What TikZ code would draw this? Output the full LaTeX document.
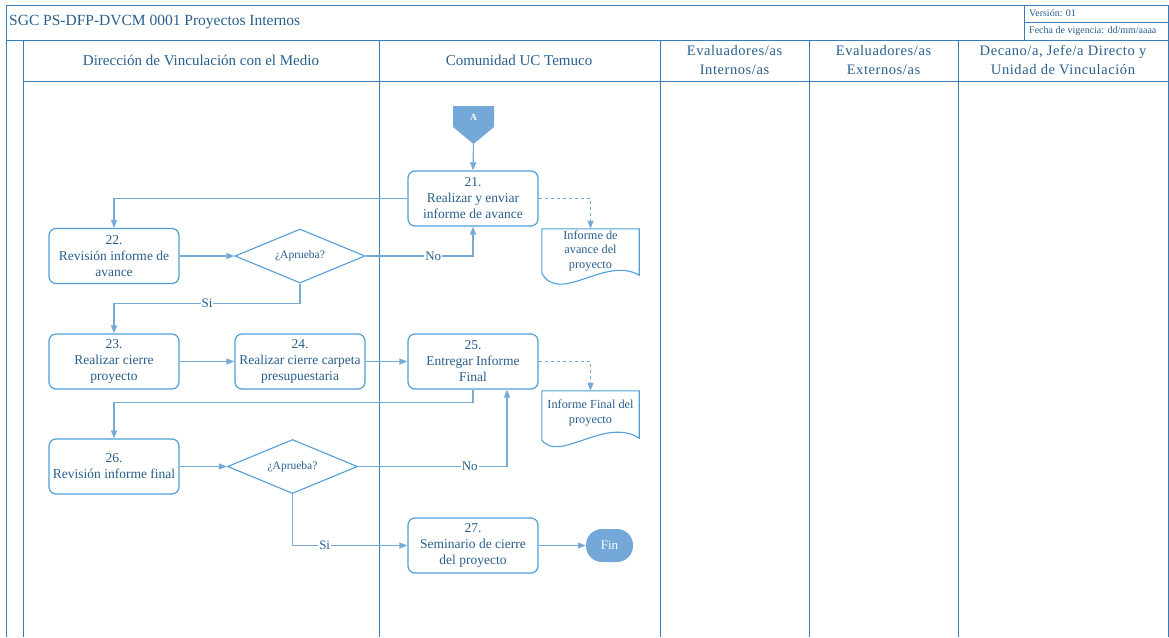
\documentclass[tikz,border=0pt]{standalone}
\usepackage{fontspec}
\setmainfont{Liberation Serif}
\newfontfamily\spacedfont[LetterSpace=4]{Liberation Serif}
\usetikzlibrary{shapes.geometric,arrows.meta,calc}
\definecolor{lanec}{RGB}{55,125,188}
\definecolor{txtc}{RGB}{40,95,140}
\definecolor{boxc}{RGB}{80,160,215}
\definecolor{connc}{RGB}{120,170,215}
\definecolor{fillc}{RGB}{115,168,216}
\begin{document}
\begin{tikzpicture}[x=1pt,y=-1pt,
  lane/.style={draw=lanec,line width=0.9pt},
  proc/.style={draw=boxc,rounded corners=7pt,minimum width=130pt,minimum height=55pt,
    align=center,text=txtc,font=\fontsize{13.5}{16}\selectfont,line width=1.2pt,inner sep=0pt},
  dec/.style={diamond,draw=boxc,aspect=2.4,minimum width=130pt,minimum height=54pt,
    text=txtc,font=\fontsize{11.5}{13}\selectfont,line width=1.1pt,inner sep=0pt},
  docnode/.style={minimum width=97pt,align=center,text=txtc,font=\fontsize{12.3}{14.5}\selectfont,inner sep=0pt},
  docshape/.style={draw=boxc,line width=1.1pt},
  conn/.style={draw=connc,line width=1.2pt,-{Triangle[length=8pt,width=6pt]}},
  lbl/.style={fill=white,text=txtc,font=\fontsize{13}{15}\selectfont,inner sep=1pt},
  hdr/.style={text=txtc,font=\fontsize{15}{19}\selectfont,align=center},
  hdrs/.style={text=txtc,font=\spacedfont\fontsize{14.5}{19}\selectfont,align=center},
  small/.style={text=txtc,font=\fontsize{10}{12}\selectfont,anchor=west,inner sep=0pt}
]
\useasboundingbox (0,0) rectangle (1169,637);
\fill[white] (0,0) rectangle (1169,637);

% frame and lanes
\draw[lane] (6,637) -- (6,5) -- (1168,5) -- (1168,637);
\draw[lane] (6,40) -- (1168,40);
\draw[lane] (23,81) -- (1168,81);
\foreach \x in {23,379,660,809,958} \draw[lane] (\x,40) -- (\x,637);
\draw[lane] (1024,5) -- (1024,40);
\draw[lane] (1024,22) -- (1168,22);

\node[text=txtc,font=\fontsize{15.5}{18}\selectfont,anchor=west,inner sep=0pt] (title) at (9,22) {SGC PS-DFP-DVCM 0001 Proyectos Internos};
\node[small] (ver) at (1029,13.5) {Versión: 01};
\node[small] (fecha) at (1029,31) {Fecha de vigencia: dd/mm/aaaa};

\node[hdr] (h1) at (201,60) {Dirección de Vinculación con el Medio};
\node[hdr] (h2) at (519,60) {Comunidad UC Temuco};
\node[hdrs] (h3) at (734.5,60) {Evaluadores/as\\Internos/as};
\node[hdrs] (h4) at (883.5,60) {Evaluadores/as\\Externos/as};
\node[hdrs] (h5) at (1063,60) {Decano/a, Jefe/a Directo y\\Unidad de Vinculación};

% off-page connector A
\fill[fillc] (453,106) -- (494,106) -- (494,127) -- (473.5,144) -- (453,127) -- cycle;
\node[text=white,font=\bfseries\fontsize{9.5}{10}\selectfont] (A) at (473.5,117) {A};
\coordinate (Atip) at (473.5,144);

% process nodes
\node[proc] (n21) at (473,198.5) {21.\\Realizar y enviar\\informe de avance};
\node[proc] (n22) at (114,256) {22.\\Revisión informe de\\avance};
\node[dec] (d1) at (300,256) {¿Aprueba?};
\node[proc] (n23) at (114,361.5) {23.\\Realizar cierre\\proyecto};
\node[proc] (n24) at (300,361.5) {24.\\Realizar cierre carpeta\\presupuestaria};
\node[proc] (n25) at (473,361.5) {25.\\Entregar Informe\\Final};
\node[proc] (n26) at (114,466.5) {26.\\Revisión informe final};
\node[dec] (d2) at (292.5,466.5) {¿Aprueba?};
\node[proc] (n27) at (473,545.5) {27.\\Seminario de cierre\\del proyecto};
\node[fill=fillc,rounded corners=16pt,minimum width=47pt,minimum height=33pt,inner sep=0pt,
  text=white,font=\fontsize{13}{15}\selectfont] (fin) at (609.5,545.5) {Fin};

% documents
\node[docnode,minimum height=43pt] (doc1) at (590.5,250.5) {Informe de\\avance del\\proyecto};
\draw[docshape] ($(doc1.south west)+(0,1)$) -- (doc1.north west) -- (doc1.north east) -- ($(doc1.south east)+(0,3)$)
  .. controls ($(doc1.south east)+(-34,-17)$) and ($(doc1.south west)+(18,33)$) .. ($(doc1.south west)+(0,1)$);
\node[docnode,minimum height=44pt] (doc2) at (590.5,413) {Informe Final del\\proyecto};
\draw[docshape] ($(doc2.south west)+(0,5)$) -- (doc2.north west) -- (doc2.north east) -- ($(doc2.south east)+(0,3)$)
  .. controls ($(doc2.south east)+(-34,-19)$) and ($(doc2.south west)+(18,28)$) .. ($(doc2.south west)+(0,5)$);

% connectors
\draw[conn] (Atip) -- (n21.north);
\draw[conn] (n21.west) -| (n22.north);
\draw[conn,dashed] (n21.east) -| (doc1.north);
\draw[conn] (n22.east) -- (d1.west);
\draw[conn] (d1.east) -| node[lbl,pos=0.315] {No} (n21.south);
\draw[conn] (d1.south) -- ++(0,20) -| node[lbl,pos=0.25] {Si} (n23.north);
\draw[conn] (n23.east) -- (n24.west);
\draw[conn] (n24.east) -- (n25.west);
\draw[conn,dashed] (n25.east) -| (doc2.north);
\draw[conn] (n25.south) -- ++(0,13) -| (n26.north);
\draw[conn] (n26.east) -- (d2.west);
\draw[conn] (d2.east) -| node[lbl,pos=0.375] {No} ([xshift=34pt]n25.south);
\draw[conn] (d2.south) |- node[lbl,pos=0.64] {Si} (n27.west);
\draw[conn] (n27.east) -- (fin.west);
\end{tikzpicture}
\end{document}
